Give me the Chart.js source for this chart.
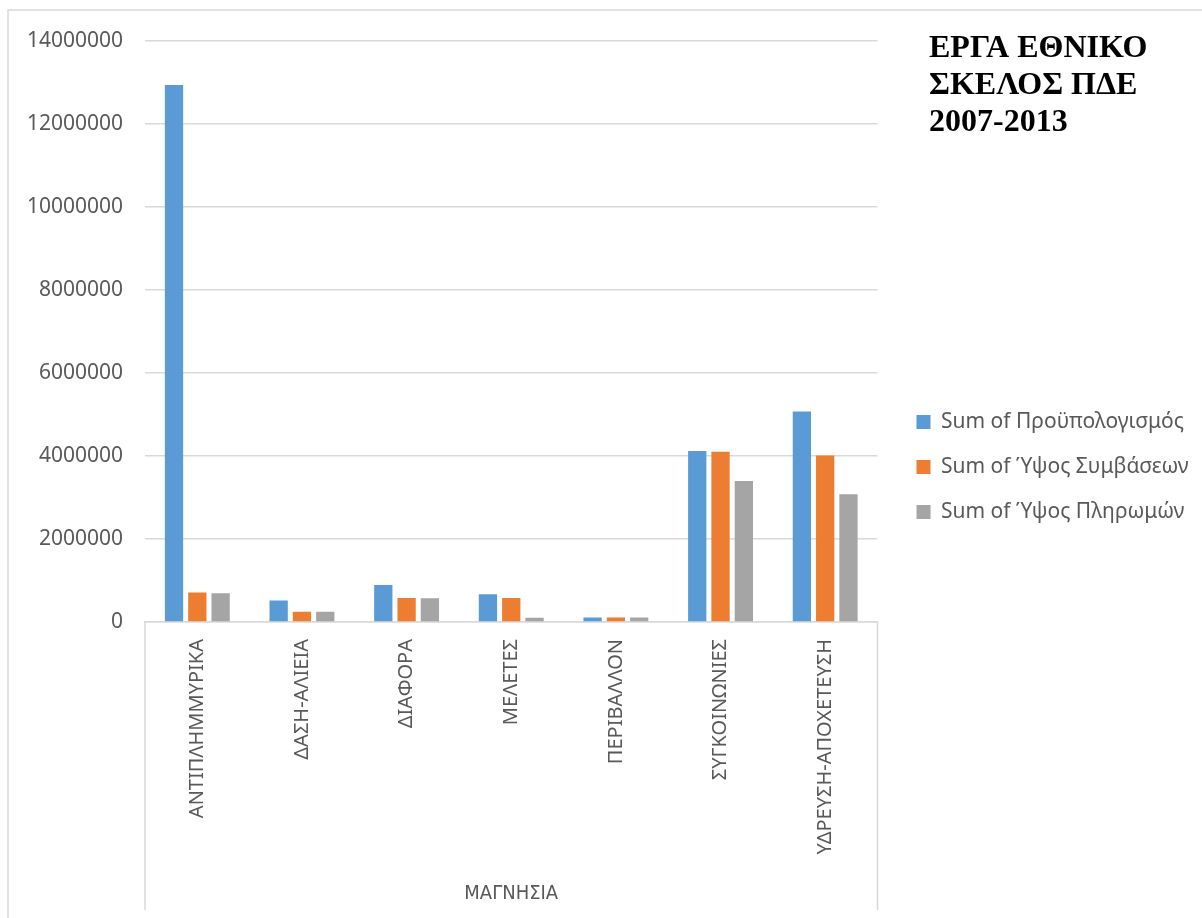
<!DOCTYPE html>
<html>
<head>
<meta charset="utf-8">
<script src="https://cdn.jsdelivr.net/npm/chart.js@4.4.1/dist/chart.umd.min.js"></script>
<style>
  html, body { margin: 0; padding: 0; background: #fff; }
  #wrap { width: 1202px; height: 918px; position: relative; }
</style>
</head>
<body>
<div id="wrap"><canvas id="myChart"></canvas></div>
<script>
const categories = ['ΑΝΤΙΠΛΗΜΜΥΡΙΚΑ', 'ΔΑΣΗ-ΑΛΙΕΙΑ', 'ΔΙΑΦΟΡΑ', 'ΜΕΛΕΤΕΣ', 'ΠΕΡΙΒΑΛΛΟΝ', 'ΣΥΓΚΟΙΝΩΝΙΕΣ', 'ΥΔΡΕΥΣΗ-ΑΠΟΧΕΤΕΥΣΗ'];
const budget    = [12940000, 520000, 890000, 670000, 110000, 4120000, 5070000];
const contracts = [710000, 250000, 580000, 580000, 110000, 4100000, 4010000];
const payments  = [690000, 250000, 575000, 100000, 110000, 3400000, 3080000];
const seriesNames = ['Sum of Προϋπολογισμός', 'Sum of Ύψος Συμβάσεων', 'Sum of Ύψος Πληρωμών'];
const titleLines = ['ΕΡΓΑ ΕΘΝΙΚΟ', 'ΣΚΕΛΟΣ ΠΔΕ', '2007-2013'];
const groupLabel = 'ΜΑΓΝΗΣΙΑ';

const textColor = '#595959';
const lineColor = '#d9d9d9';
const baseFont = "'Noto Sans', sans-serif";

// frame, title text and the outer box of the category level
const decor = {
  id: 'decor',
  afterDraw(chart) {
    const ctx = chart.ctx;
    const a = chart.chartArea;
    ctx.save();
    ctx.strokeStyle = lineColor;
    ctx.lineWidth = 1.5;
    ctx.beginPath();
    ctx.moveTo(8, 918); ctx.lineTo(8, 10); ctx.lineTo(1202, 10);
    ctx.moveTo(a.left, a.bottom); ctx.lineTo(a.left, 910);
    ctx.moveTo(a.right, a.bottom); ctx.lineTo(a.right, 910);
    ctx.stroke();

    ctx.fillStyle = '#000';
    ctx.font = "bold 32px 'Liberation Serif', 'Times New Roman', serif";
    ctx.textBaseline = 'middle';
    titleLines.forEach((t, i) => ctx.fillText(t, 929, 49 + i * 37));
    ctx.restore();
  }
};

// empty strip between the plot and the legend
const gapBox = {
  position: 'right',
  weight: 0,
  fullSize: false,
  options: { display: false },
  isHorizontal() { return false; },
  update(maxWidth, maxHeight) { this.width = 15; this.height = maxHeight; },
  getPadding() { return { top: 0, left: 0, right: 0, bottom: 0 }; },
  draw() {}
};
const gapPlugin = {
  id: 'gap',
  beforeInit(chart) { Chart.layouts.addBox(chart, gapBox); }
};

const ctx = document.getElementById('myChart').getContext('2d');
new Chart(ctx, {
  type: 'bar',
  data: {
    labels: categories,
    datasets: [
      { label: seriesNames[0], data: budget, backgroundColor: '#5B9BD5' },
      { label: seriesNames[1], data: contracts, backgroundColor: '#ED7D31' },
      { label: seriesNames[2], data: payments, backgroundColor: '#A5A5A5' }
    ]
  },
  options: {
    responsive: true,
    maintainAspectRatio: false,
    animation: false,
    categoryPercentage: 0.668,
    barPercentage: 0.785,
    layout: { padding: { top: 16, bottom: 0, left: 0, right: 12 } },
    plugins: {
      tooltip: { enabled: false },
      subtitle: {
        display: true,
        text: '',
        fullSize: false,
        font: { size: 10, lineHeight: 1 },
        padding: { top: 0, bottom: 15 }
      },
      legend: {
        position: 'right',
        align: 'center',
        labels: {
          boxWidth: 14,
          boxHeight: 14,
          padding: 24,
          color: textColor,
          font: { family: baseFont, size: 21 }
        }
      }
    },
    scales: {
      x: {
        grid: { display: false },
        border: { display: true, color: lineColor, width: 1.5 },
        ticks: {
          color: textColor,
          minRotation: 90,
          maxRotation: 90,
          padding: 9,
          autoSkip: false,
          font: { family: baseFont, size: 20 }
        },
        title: {
          display: true,
          text: groupLabel,
          color: textColor,
          padding: { top: 4, bottom: 12 },
          font: { family: "'Liberation Sans Narrow', 'DejaVu Sans Condensed', sans-serif", size: 20 }
        },
        afterFit(scale) { scale.height = 918 - 622; }
      },
      y: {
        min: 0,
        max: 14000000,
        border: { display: false },
        grid: { color: lineColor, lineWidth: 1.5, drawTicks: false },
        ticks: {
          stepSize: 2000000,
          color: textColor,
          padding: 22,
          font: { family: baseFont, size: 21 },
          callback: v => String(v)
        },
        afterFit(scale) { scale.width = 145; }
      }
    }
  },
  plugins: [gapPlugin, decor]
});
</script>
</body>
</html>
